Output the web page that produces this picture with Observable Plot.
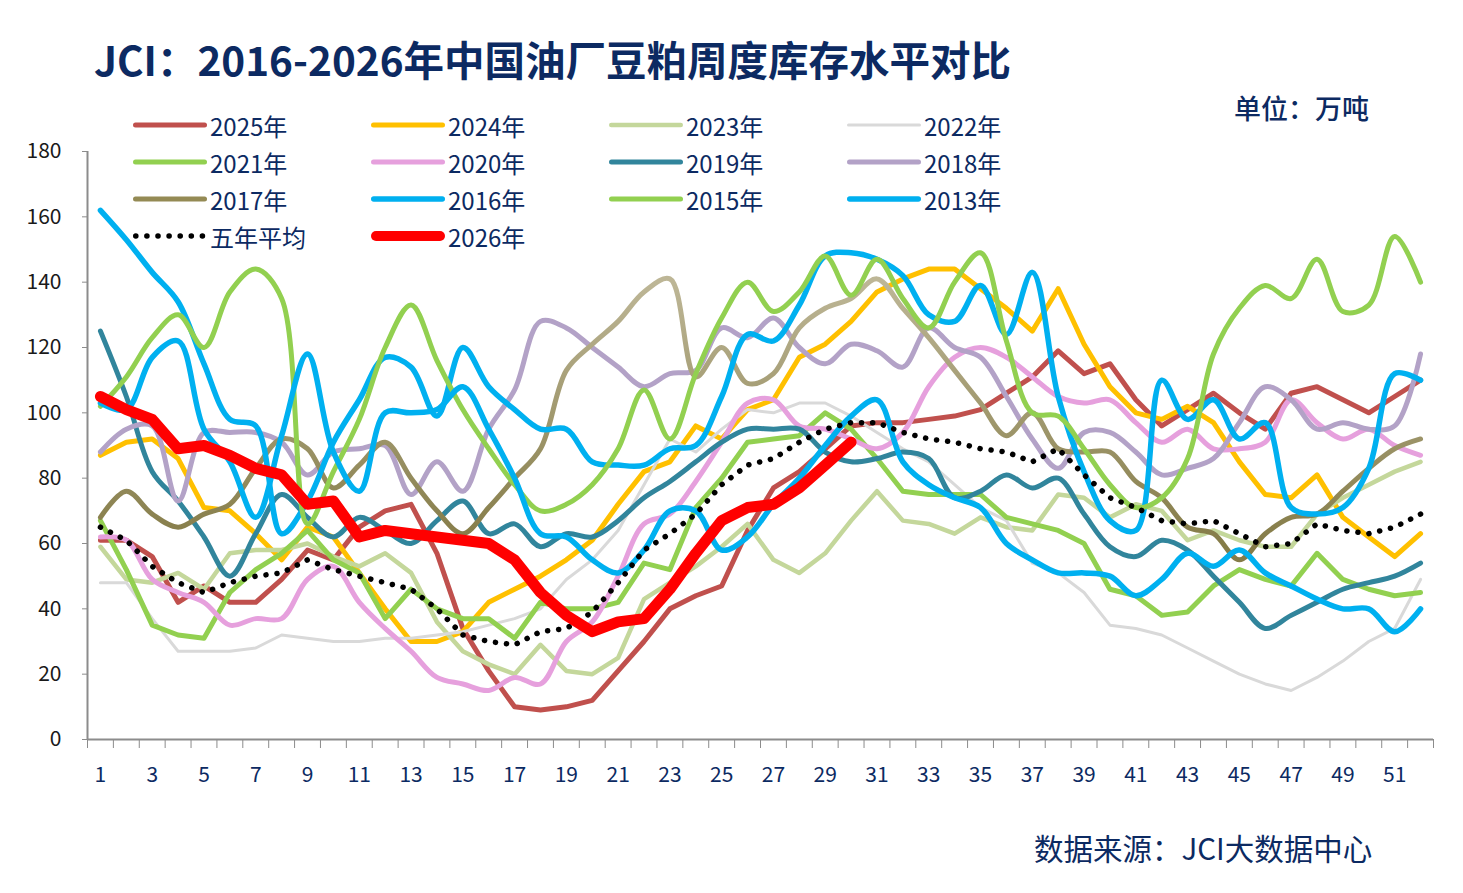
<!DOCTYPE html>
<html>
<head>
<meta charset="utf-8">
<script src="https://cdn.jsdelivr.net/npm/d3@7"></script>
<script src="https://cdn.jsdelivr.net/npm/@observablehq/plot@0.6"></script>
<style>
  body { margin: 0; background: #fff; font-family: "Noto Sans CJK SC", "Noto Sans", sans-serif; }
  #wrap { position: relative; width: 1463px; height: 893px; overflow: hidden; }
  #plot { position: absolute; left: 0; top: 0; }
  #title { position: absolute; left: 94px; top: 29px; font-size: 40.5px; font-weight: 700; color: #0c2a62; white-space: nowrap; }
  #unit { position: absolute; left: 1234px; top: 88px; font-size: 27px; font-weight: 500; color: #0c2a62; white-space: nowrap; }
  #source { position: absolute; left: 1034px; top: 826px; font-size: 29.5px; color: #0c2a62; white-space: nowrap; }
  .lg { position: absolute; display: flex; align-items: center; font-size: 24px; color: #0c2a62; white-space: nowrap; }
  .lg svg { margin-right: 2px; }
</style>
</head>
<body>
<div id="wrap">
  <div id="plot"></div>
  <div id="title">JCI：2016-2026年中国油厂豆粕周度库存水平对比</div>
  <div id="unit">单位：万吨</div>
  <div id="legend"></div>
  <div id="source">数据来源：JCI大数据中心</div>
</div>
<script>
// weeks and axis ticks
const weeks = d3.range(1, 53);
const xLabels = d3.range(1, 53, 2);
const weekEdges = d3.range(0.5, 53, 1);
const yTicks = d3.range(0, 181, 20);

// weekly soybean meal stocks, 10k tonnes
const s2025 = [61,61,56,42,47,42,42,49,58,55,65,70,72,57,34,21,10,9,10,12,21,30,40,44,47,64,77,82,89,96,97,97,98,99,101,106,111,119,112,115,104,96,101,106,100,95,106,108,104,100,105,110];
const s2024 = [87,91,92,86,71,70,63,55,65,62,51,40,30,30,33,42,46,50,55,61,72,82,85,96,92,101,104,117,121,128,137,141,144,144,138,132,125,138,121,108,100,98,102,97,85,75,74,81,68,62,56,63];
const s2023 = [59,49,48,51,46,57,58,58,60,56,53,57,51,36,27,23,20,29,21,20,25,43,48,53,59,66,55,51,57,67,76,67,66,63,68,65,64,75,74,68,72,70,61,64,61,59,59,69,74,78,82,85];
const s2022 = [48,48,37,27,27,27,28,32,31,30,30,31,31,32,33,35,37,40,49,55,64,78,92,88,95,101,100,103,103,99,94,89,85,78,71,67,54,51,45,35,34,32,28,24,20,17,15,19,24,30,34,49];
const s2021 = [67,52,35,32,31,45,52,57,64,55,51,37,46,40,37,37,31,42,40,40,42,54,52,71,80,91,92,93,100,95,86,76,75,75,75,68,66,64,60,46,44,38,39,47,52,49,47,57,49,46,44,45];
const s2020 = [62,61,49,45,42,35,37,37,49,53,42,34,27,19,17,15,19,17,30,36,50,66,69,79,91,103,104,96,95,92,89,94,108,117,120,117,111,105,103,104,97,91,95,89,89,91,104,97,92,95,90,87];
const s2019 = [125,105,82,73,62,50,63,75,68,62,68,64,60,67,73,63,66,59,63,62,67,74,79,85,91,95,95,95,88,85,86,88,86,74,76,81,77,80,69,59,56,61,58,50,42,34,38,42,46,48,50,54];
const s2018 = [88,95,96,73,94,94,94,91,81,88,89,90,75,85,76,95,107,128,126,120,114,108,112,113,126,123,129,120,115,121,119,114,126,120,117,105,92,83,94,94,88,81,83,86,97,108,104,95,97,95,96,118];
const s2017 = [68,76,69,65,69,72,83,92,89,77,84,91,80,70,63,71,80,89,113,121,128,137,141,111,120,109,112,126,132,135,141,132,123,113,103,93,100,89,88,88,79,74,65,63,55,63,68,69,76,83,89,92];
const s2016 = [162,153,143,134,115,98,96,63,73,91,104,117,114,99,120,108,101,95,95,85,84,84,89,90,105,124,122,133,148,149,147,142,130,128,139,124,143,105,82,67,64,110,98,104,92,97,71,69,71,83,112,110];
const s2015 = [102,111,123,130,120,137,144,135,66,82,98,120,133,116,101,89,78,70,72,78,89,107,92,112,129,140,131,137,148,136,147,135,126,140,149,122,100,99,89,78,71,74,86,118,132,139,135,147,131,133,154,140];
const s2013 = [103,101,117,122,95,85,68,93,118,88,76,100,100,101,108,95,80,63,62,55,51,58,70,70,58,62,72,80,90,99,104,85,78,74,71,60,55,51,51,50,44,49,57,53,58,51,47,43,40,40,33,40];
const avg5 = [65,61,53,48,45,48,50,51,55,52,50,48,46,40,32,30,29,33,34,39,48,58,63,69,78,84,86,91,95,97,97,94,92,91,89,88,85,89,81,74,71,67,66,67,63,59,60,66,64,63,65,69];
const s2026 = [105,101,98,89,90,87,83,81,72,73,62,64,63,62,61,60,55,45,38,33,36,37,46,57,67,71,72,77,84,91];

// legend order = drawing order
const series = [
  {name: "2025年", values: s2025, color: "#c0504d", width: 5, curve: "linear"},
  {name: "2024年", values: s2024, color: "#ffc000", width: 5, curve: "linear"},
  {name: "2023年", values: s2023, color: "#c4d79b", width: 4.5, curve: "linear"},
  {name: "2022年", values: s2022, color: "#d9d9d9", width: 3, curve: "linear"},
  {name: "2021年", values: s2021, color: "#92d050", width: 5, curve: "linear"},
  {name: "2020年", values: s2020, color: "#e6a0dd", width: 5, curve: "catmull-rom"},
  {name: "2019年", values: s2019, color: "#31859c", width: 5, curve: "catmull-rom"},
  {name: "2018年", values: s2018, color: "#b3a2c7", width: 5, curve: "catmull-rom"},
  {name: "2017年", values: s2017, color: "#948a54", width: 5, curve: "catmull-rom", stroke: "url(#grad2017)"},
  {name: "2016年", values: s2016, color: "#00b0f0", width: 5.5, curve: "catmull-rom"},
  {name: "2015年", values: s2015, color: "#92d050", width: 5, curve: "catmull-rom"},
  {name: "2013年", values: s2013, color: "#00b0f0", width: 5.5, curve: "catmull-rom"},
  {name: "五年平均", values: avg5, color: "#000", width: 5.5, curve: "linear", dash: "0.1 11"},
  {name: "2026年", values: s2026, color: "#ff0000", width: 11, curve: "linear"}
];

const lines = series.map(s => Plot.line(
  s.values.map((v, i) => ({week: weeks[i], value: v})),
  {
    x: "week", y: "value", stroke: s.stroke || s.color, strokeWidth: s.width, curve: s.curve,
    strokeDasharray: s.dash, strokeLinecap: "round", strokeLinejoin: "round"
  }
));

const plot = Plot.plot({
  width: 1463,
  height: 893,
  marginLeft: 87,
  marginRight: 30,
  marginTop: 151,
  marginBottom: 154,
  style: { background: "transparent", color: "#1a1a1a", fontFamily: "'Noto Sans CJK SC', 'Noto Sans', sans-serif" },
  x: { domain: [0.5, 52.5], axis: null },
  y: { domain: [0, 180], axis: null },
  marks: [
    Plot.axisY({ticks: yTicks, tickSize: 5, tickPadding: 21, fontSize: 21, stroke: "#8c8c8c", label: null}),
    Plot.axisX({ticks: weekEdges, tickSize: 9, tickFormat: () => "", stroke: "#8c8c8c", label: null}),
    Plot.axisX({ticks: xLabels, tickSize: 0, tickPadding: 28, fontSize: 21, fill: "#0c2a62", label: null}),
    Plot.ruleX([0.5], {stroke: "#8c8c8c", strokeWidth: 2}),
    ...lines,
    Plot.ruleY([0], {stroke: "#8c8c8c", strokeWidth: 2})
  ]
});

// 2017 line fades from dark olive (low) to light khaki (high), like the original
const y = plot.scale("y");
const defs = d3.create("svg:defs");
const grad = defs.append("linearGradient")
  .attr("id", "grad2017")
  .attr("gradientUnits", "userSpaceOnUse")
  .attr("x1", 0).attr("x2", 0)
  .attr("y1", y.apply(60)).attr("y2", y.apply(140));
grad.append("stop").attr("offset", "0%").attr("stop-color", "#857c48");
grad.append("stop").attr("offset", "100%").attr("stop-color", "#bdb696");
plot.insertBefore(defs.node(), plot.firstChild);

document.getElementById("plot").appendChild(plot);

// legend: 4 columns, 4 rows
const legend = document.getElementById("legend");
series.forEach((s, i) => {
  const col = i % 4, row = Math.floor(i / 4);
  const item = document.createElement("div");
  item.className = "lg";
  item.style.left = (131 + col * 238) + "px";
  item.style.top = (125 + row * 37 - 16) + "px";
  item.style.height = "32px";
  const sw = Math.min(s.width, 10);
  item.innerHTML =
    `<svg width="77" height="14"><line x1="${sw / 2 + 2}" y1="7" x2="${76 - sw / 2}" y2="7" stroke="${s.color}" ` +
    `stroke-width="${s.name === "2022年" ? 3 : sw}" stroke-linecap="round" ${s.dash ? `stroke-dasharray="${s.dash}"` : ""}/></svg>` +
    `<span>${s.name}</span>`;
  legend.appendChild(item);
});
</script>
</body>
</html>
